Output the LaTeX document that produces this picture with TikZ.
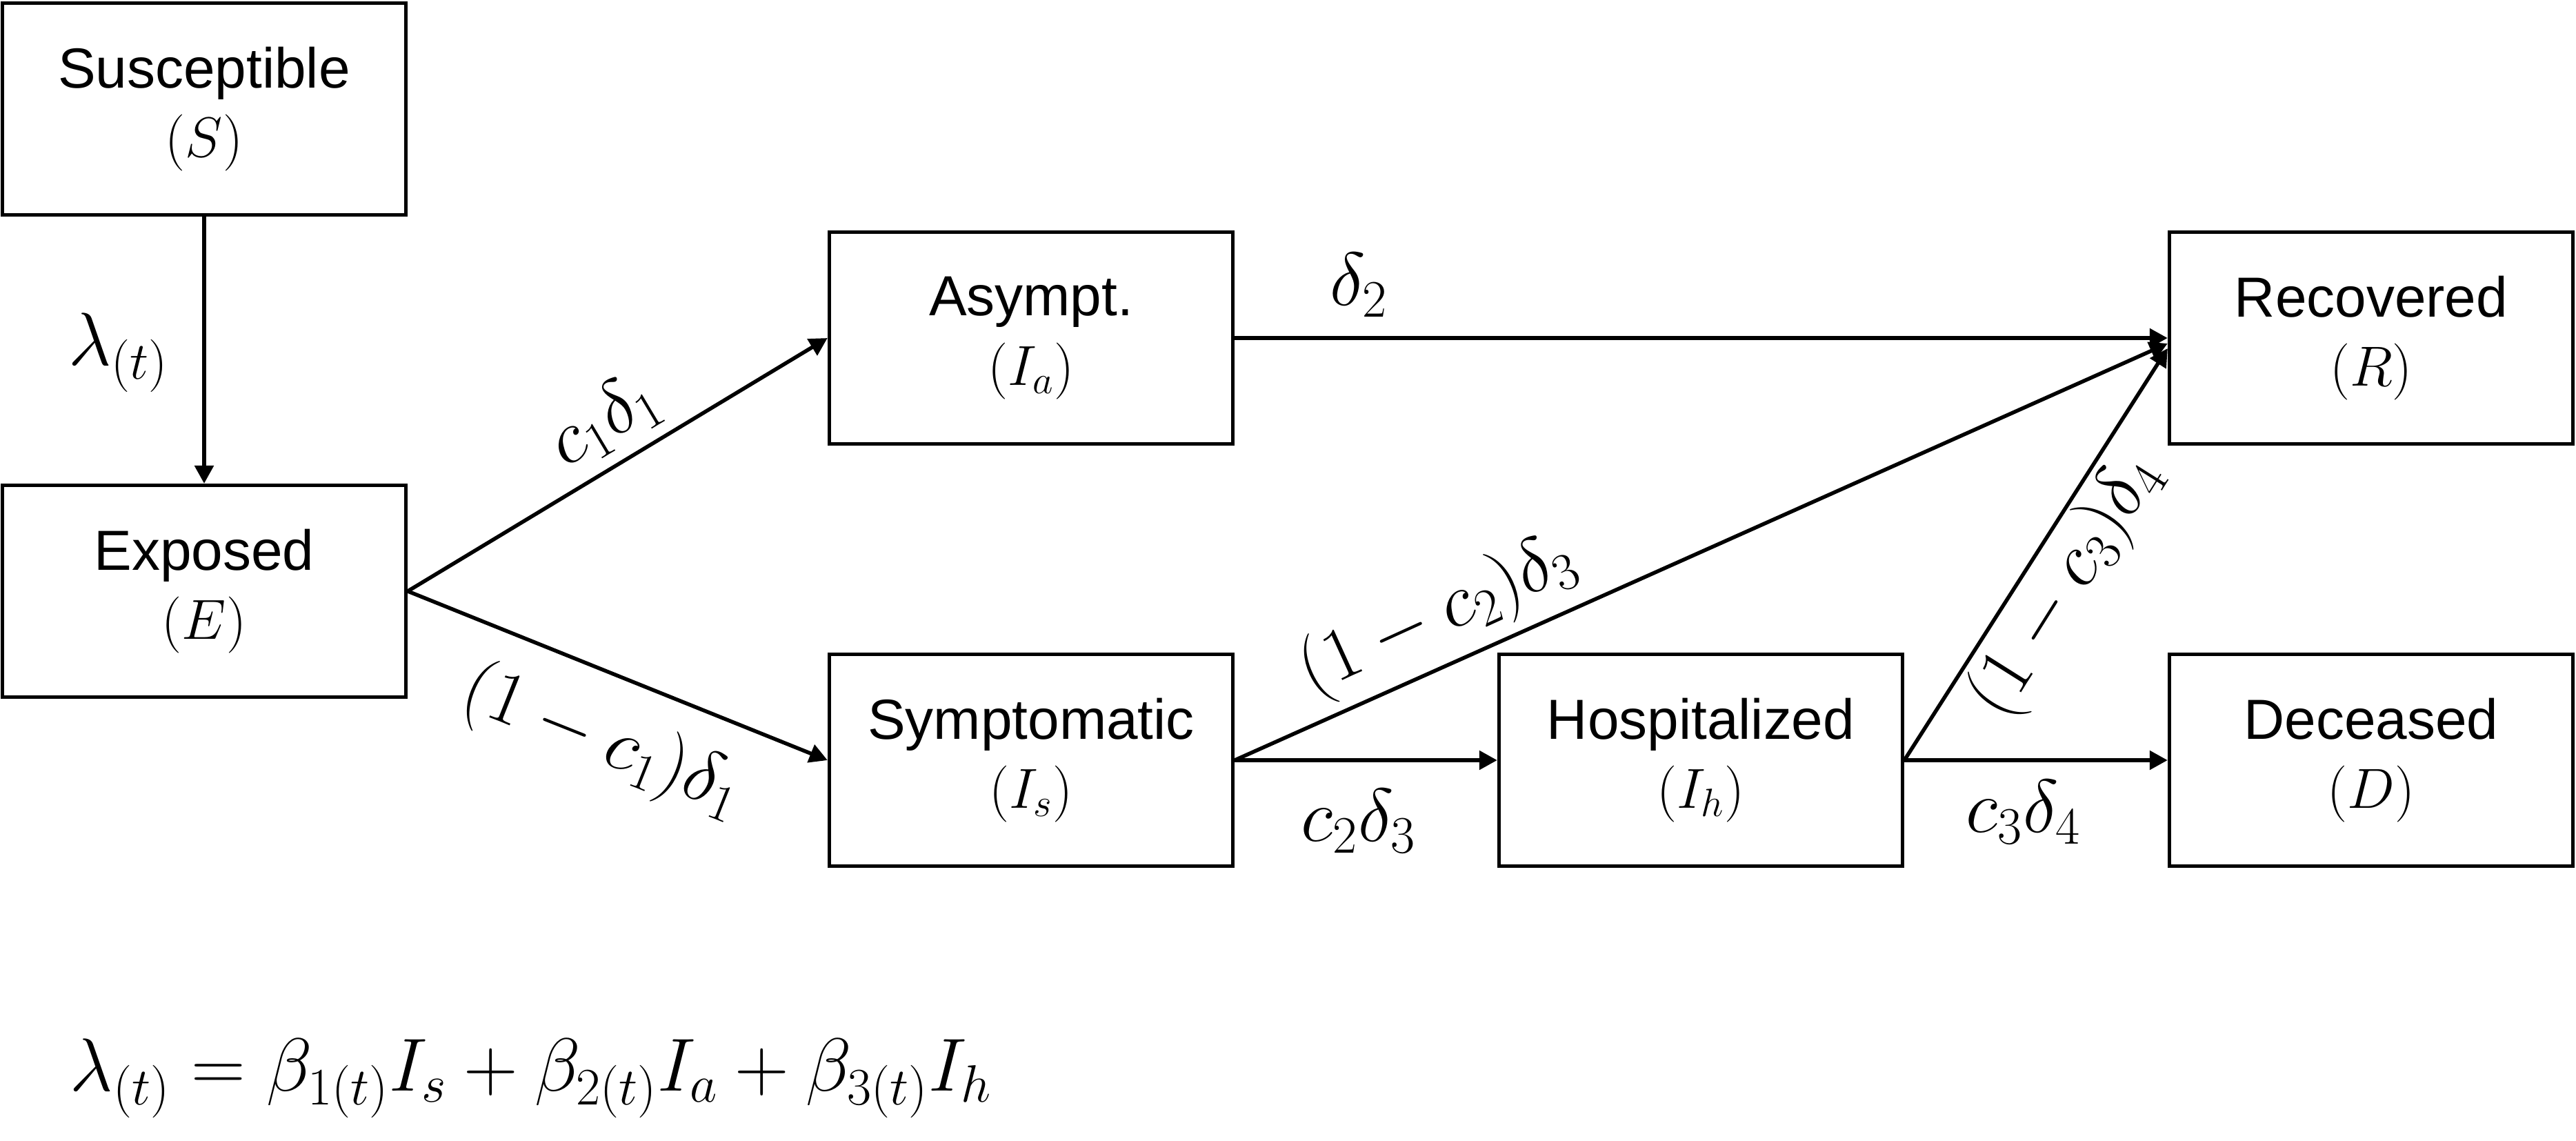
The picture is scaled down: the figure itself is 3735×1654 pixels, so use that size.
\RequirePackage{fix-cm}
\documentclass[tikz,border=0pt]{standalone}
\usepackage[no-math]{fontspec}
\setmainfont{Liberation Sans}
\usetikzlibrary{arrows.meta}
\begin{document}
\begin{tikzpicture}[x=0.01cm, y=-0.01cm,
  box/.style={draw, line width=0.05cm, rectangle, minimum width=5.85cm, minimum height=3.07cm,
    inner sep=0pt, align=center, font=\fontsize{23.3}{28.5}\selectfont},
  flow/.style={line width=0.055cm, -{Triangle[length=0.26cm, width=0.27cm]}},
  lbl/.style={inner sep=0pt, font=\fontsize{31}{36}\selectfont}]
\useasboundingbox (0,0) rectangle (3735,1654);
% compartments
\node[box] (S)  at (296,158)  {Susceptible\\$(S)$};
\node[box] (E)  at (296,857)  {Exposed\\$(E)$};
\node[box] (Ia) at (1495,490) {Asympt.\\$(I_a)$};
\node[box] (R)  at (3438,490) {Recovered\\$(R)$};
\node[box] (Is) at (1495,1102) {Symptomatic\\$(I_s)$};
\node[box] (Ih) at (2466,1102) {Hospitalized\\$(I_h)$};
\node[box] (D)  at (3438,1102) {Deceased\\$(D)$};
% flows
\draw[flow] (S.south) -- (E.north);
\draw[flow] (E.east) -- (Ia.west);
\draw[flow] (E.east) -- (Is.west);
\draw[flow] (Ia.east) -- (R.west);
\draw[flow] (Is.east) -- ([yshift=-0.08cm]R.west);
\draw[flow] (Is.east) -- (Ih.west);
\draw[flow] (Ih.east) -- ([yshift=-0.15cm]R.west);
\draw[flow] (Ih.east) -- (D.west);
% rate labels
\node[lbl] (l0) at (172,511) {$\lambda_{(t)}$};
\node[lbl, rotate=30.9] (l1) at (876,610) {$c_1\delta_1$};
\node[lbl, rotate=-21.7] (l2) at (873,1076) {$(1-c_1)\delta_1$};
\node[lbl] (l3) at (1970,413) {$\delta_2$};
\node[lbl, rotate=24.5] (l4) at (2085,893) {$(1-c_2)\delta_3$};
\node[lbl] (l5) at (1970,1190) {$c_2\delta_3$};
\node[lbl, rotate=57.8] (l6) at (2996,850) {$(1-c_3)\delta_4$};
\node[lbl] (l7) at (2934,1177) {$c_3\delta_4$};
% force of infection
\node[lbl] (F) at (770,1563) {$\lambda_{(t)} = \beta_{1(t)}I_s + \beta_{2(t)}I_a + \beta_{3(t)}I_h$};
\end{tikzpicture}
\end{document}
